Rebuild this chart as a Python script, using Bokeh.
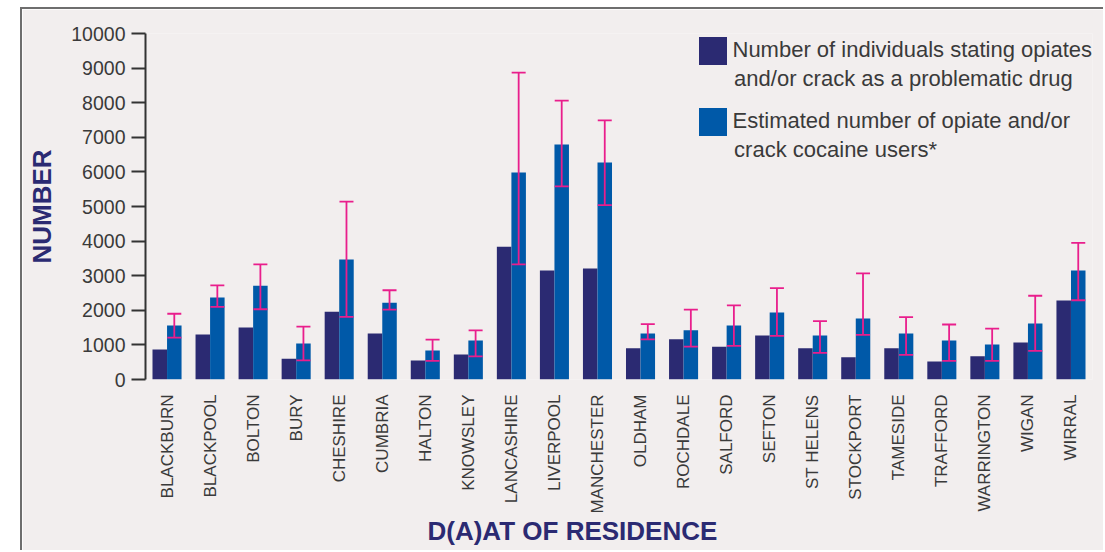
from math import pi
from bokeh.plotting import figure
from bokeh.models import (ColumnDataSource, FactorRange, Range1d, FixedTicker,
                          Legend, LegendItem, Label, Spacer, Title)
from bokeh.layouts import row, column
from bokeh.transform import dodge
from bokeh.embed import file_html
from bokeh.resources import INLINE

districts = ["BLACKBURN", "BLACKPOOL", "BOLTON", "BURY", "CHESHIRE", "CUMBRIA",
             "HALTON", "KNOWSLEY", "LANCASHIRE", "LIVERPOOL", "MANCHESTER",
             "OLDHAM", "ROCHDALE", "SALFORD", "SEFTON", "ST HELENS", "STOCKPORT",
             "TAMESIDE", "TRAFFORD", "WARRINGTON", "WIGAN", "WIRRAL"]
stated = [870, 1300, 1500, 600, 1960, 1330, 550, 720, 3840, 3150, 3210,
          900, 1160, 950, 1270, 900, 640, 900, 520, 670, 1070, 2280]
estimated = [1560, 2370, 2710, 1040, 3470, 2220, 840, 1130, 5980, 6790, 6270,
             1330, 1420, 1560, 1940, 1270, 1760, 1330, 1130, 1010, 1620, 3150]
upper = [1900, 2720, 3330, 1530, 5140, 2580, 1150, 1420, 8870, 8060, 7490,
         1600, 2020, 2140, 2640, 1690, 3070, 1800, 1590, 1470, 2420, 3950]
lower = [1210, 2100, 2030, 550, 1810, 2020, 540, 670, 3330, 5580, 5040,
         1160, 950, 970, 1260, 770, 1290, 710, 540, 540, 830, 2290]
y_ticks = [0, 1000, 2000, 3000, 4000, 5000, 6000, 7000, 8000, 9000, 10000]
series_line1 = ["Number of individuals stating opiates",
                "Estimated number of opiate and/or"]
series_line2 = ["and/or crack as a problematic drug",
                "crack cocaine users*"]
x_title = "D(A)AT OF RESIDENCE"
y_title = "NUMBER"

BG = "#f2eeee"
DARK = "#2b2a72"
BLUE = "#0059a8"
MAGENTA = "#e91e8c"
TXT = "#3a3a3a"
LEG_SIZE = "22px"

source = ColumnDataSource(dict(district=districts, stated=stated,
                               estimated=estimated, upper=upper, lower=lower))

p = figure(width=1083, height=543, x_range=FactorRange(*districts),
           y_range=Range1d(0, 10000), output_backend="svg",
           toolbar_location=None,
           background_fill_color=BG, border_fill_color=BG,
           outline_line_color=None,
           min_border_left=123, min_border_right=13,
           min_border_top=24, min_border_bottom=173)
p.styles = {"border-top": "2px solid #6e6e6e", "border-left": "2px solid #6e6e6e"}

bw = 0.337
r1 = p.vbar(x=dodge("district", -0.169, range=p.x_range), top="stated", width=bw,
            source=source, fill_color=DARK, line_color=None)
r2 = p.vbar(x=dodge("district", 0.169, range=p.x_range), top="estimated", width=bw,
            source=source, fill_color=BLUE, line_color=None)

xe = dodge("district", 0.169, range=p.x_range)
p.segment(x0=xe, x1=xe, y0="lower", y1="upper", source=source,
          line_color=MAGENTA, line_width=1.8)
p.scatter(x=xe, y="upper", marker="dash", size=14, source=source,
          line_color=MAGENTA, line_width=1.8)
p.scatter(x=xe, y="lower", marker="dash", size=14, source=source,
          line_color=MAGENTA, line_width=1.8)

p.xgrid.grid_line_color = None
p.ygrid.grid_line_color = None

# x axis
p.xaxis.axis_line_color = None
p.xaxis.major_tick_line_color = None
p.xaxis.minor_tick_line_color = None
p.xaxis.major_label_orientation = pi / 2
p.xaxis.major_label_standoff = 9
p.xaxis.major_label_text_font = "Liberation Sans"
p.xaxis.major_label_text_font_size = "17px"
p.xaxis.major_label_text_color = TXT

# y axis
p.yaxis.ticker = FixedTicker(ticks=y_ticks)
p.yaxis.axis_line_color = "#333333"
p.yaxis.axis_line_width = 2
p.yaxis.major_tick_line_color = "#333333"
p.yaxis.major_tick_line_width = 2
p.yaxis.major_tick_out = 14
p.yaxis.major_tick_in = 0
p.yaxis.minor_tick_line_color = None
p.yaxis.major_label_standoff = 6
p.yaxis.major_label_text_font = "Liberation Sans"
p.yaxis.major_label_text_font_size = "19.5px"
p.yaxis.major_label_text_color = TXT
p.yaxis.axis_label = y_title
p.yaxis.axis_label_text_font = "Liberation Sans"
p.yaxis.axis_label_text_font_style = "bold"
p.yaxis.axis_label_text_font_size = "26px"
p.yaxis.axis_label_text_color = DARK
p.yaxis.axis_label_standoff = 11

# x title, set left of the frame centre as in the original
p.add_layout(Title(text=x_title, align="left", offset=282, standoff=-5,
                   text_font="Liberation Sans", text_font_style="bold",
                   text_font_size="26px", text_color=DARK), "below")

# legend: first line of each entry in the Legend, second line as a label
legend = Legend(items=[LegendItem(label=series_line1[0], renderers=[r1]),
                       LegendItem(label=series_line1[1], renderers=[r2])],
                location=(549.5, 240.5), margin=0, padding=0, spacing=36,
                glyph_width=35, glyph_height=35, label_standoff=3,
                label_text_font="Liberation Sans", label_text_font_size=LEG_SIZE,
                label_text_color=TXT,
                background_fill_alpha=0, border_line_color=None)
p.add_layout(legend)
for txt, yv in zip(series_line2, [8699, 6647]):
    p.add_layout(Label(x=13.674, y=yv, text=txt, text_align="left",
                       text_baseline="middle", text_font="Liberation Sans",
                       text_font_size=LEG_SIZE, text_color=TXT))

layout = column(Spacer(width=1105, height=7),
                row(Spacer(width=20, height=545), p))
open("out.html", "w").write(file_html(layout, INLINE))
